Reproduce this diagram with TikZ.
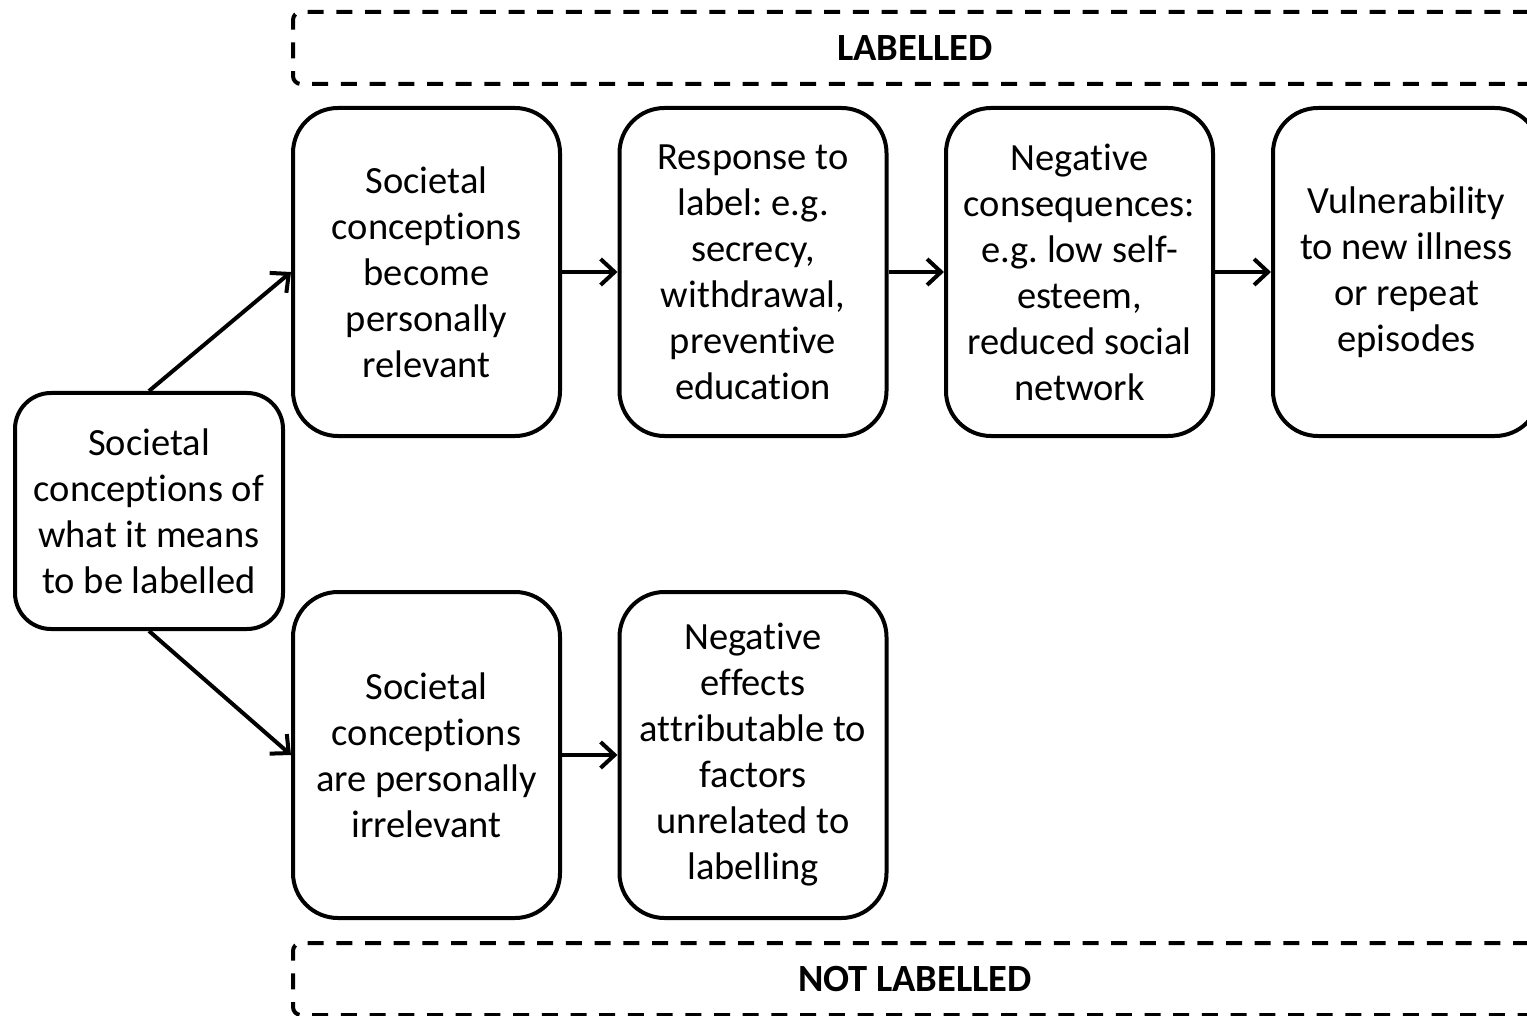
\documentclass[tikz,border=0pt]{standalone}
\usepackage{fontspec}
\setmainfont{Carlito}[RawFeature=-liga]
\usetikzlibrary{arrows.meta}
\begin{document}
\frenchspacing
\begin{tikzpicture}[x=1pt,y=-1pt,
  box/.style={draw, line width=4pt, rounded corners=45pt, align=center,
    font=\fontsize{38.5}{46}\selectfont, inner sep=0pt,
    minimum width=267pt, minimum height=328pt},
  leftbox/.style={box, rounded corners=36pt, minimum width=268pt, minimum height=236pt},
  dbox/.style={draw, line width=4pt, rounded corners=8pt, dash pattern=on 16pt off 12.7pt,
    font=\fontsize{38.5}{46}\selectfont\bfseries, inner sep=0pt,
    minimum width=1244pt, minimum height=72pt},
  arr/.style={line width=4pt, -{Straight Barb[length=14pt,width=26pt]}}]
\useasboundingbox (0,0) rectangle (1527,1016);
\clip (0,0) rectangle (1527,1016);
\node[dbox] (lab) at (915,48) {LABELLED};
\node[dbox] (nlab) at (915,979) {NOT LABELLED};
\node[leftbox] (L) at (149,511) {Societal\\conceptions of\\what it means\\to be labelled};
\node[box] (b1) at (426.5,272) {Societal\\conceptions\\become\\personally\\relevant};
\node[box] (b2) at (753,272) {Response to\\label: e.g.\\secrecy,\\withdrawal,\\preventive\\education};
\node[box] (b3) at (1079.5,272) {Negative\\consequences:\\e.g. low self-\\esteem,\\reduced social\\network};
\node[box] (b4) at (1406.5,272) {Vulnerability\\to new illness\\or repeat\\episodes};
\node[box, minimum height=326pt] (b5) at (426.5,755) {Societal\\conceptions\\are personally\\irrelevant};
\node[box, minimum height=326pt] (b6) at (753,755) {Negative\\effects\\attributable to\\factors\\unrelated to\\labelling};
\draw[arr] (L.north) -- (b1.west);
\draw[arr] (L.south) -- (b5.west);
\draw[arr] (b1.east) -- (b2.west);
\draw[arr] (b2.east) -- (b3.west);
\draw[arr] (b3.east) -- (b4.west);
\draw[arr] (b5.east) -- (b6.west);
\end{tikzpicture}
\end{document}
